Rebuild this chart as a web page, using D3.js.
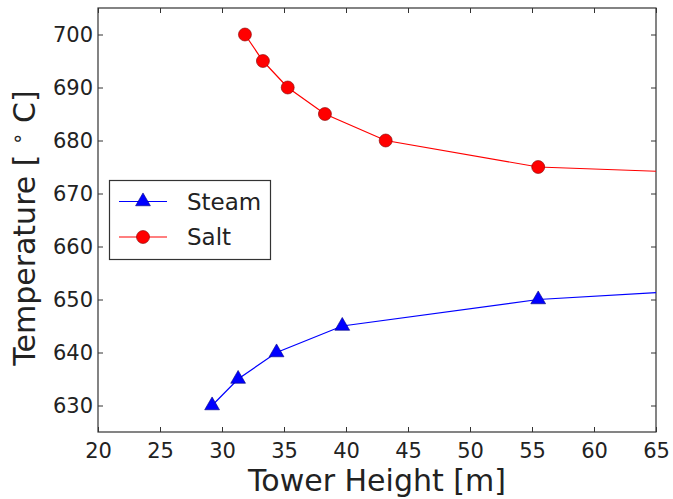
<!DOCTYPE html>
<html>
<head>
<meta charset="utf-8">
<script src="https://cdn.jsdelivr.net/npm/d3@7"></script>
<style>
  html, body { margin: 0; padding: 0; background: #fff; }
  svg text { font-family: "DejaVu Sans", sans-serif; fill: #222; }
</style>
</head>
<body>
<svg id="chart" width="673" height="499"></svg>
<script>
// Tower height [m] and outlet temperature [°C] for each working fluid
const steamHeight = [29.2, 31.3, 34.4, 39.7, 55.5];
const steamTemp   = [630, 635, 640, 645, 650];
const saltHeight  = [31.85, 33.3, 35.3, 38.3, 43.2, 55.5];
const saltTemp    = [700, 695, 690, 685, 680, 675];

// Fitted curves continue past the last marker to the edge of the axes
const steamCurveEnd = [65, 651.3];
const saltCurveEnd  = [65, 674.2];

const xTicks = [20, 25, 30, 35, 40, 45, 50, 55, 60, 65];
const yTicks = [630, 640, 650, 660, 670, 680, 690, 700];

const svg = d3.select("#chart");
const m = { left: 98, top: 8, right: 656, bottom: 432 };

const x = d3.scaleLinear().domain([20, 65]).range([m.left, m.right]);
const y = d3.scaleLinear().domain([625, 705]).range([m.bottom, m.top]);

const axisColor = "#333";

// Frame
svg.append("rect")
  .attr("x", m.left).attr("y", m.top)
  .attr("width", m.right - m.left).attr("height", m.bottom - m.top)
  .attr("fill", "none").attr("stroke", axisColor).attr("stroke-width", 1.2);

// Axes with inward ticks on all four sides
const tickLen = 5;
const gx = svg.append("g").attr("transform", `translate(0,${m.bottom})`)
  .call(d3.axisBottom(x).tickValues(xTicks).tickSizeInner(-tickLen).tickSizeOuter(0).tickPadding(11));
const gxTop = svg.append("g").attr("transform", `translate(0,${m.top})`)
  .call(d3.axisTop(x).tickValues(xTicks).tickSizeInner(-tickLen).tickSizeOuter(0).tickFormat(""));
const gy = svg.append("g").attr("transform", `translate(${m.left},0)`)
  .call(d3.axisLeft(y).tickValues(yTicks).tickSizeInner(-tickLen).tickSizeOuter(0).tickPadding(5));
const gyRight = svg.append("g").attr("transform", `translate(${m.right},0)`)
  .call(d3.axisRight(y).tickValues(yTicks).tickSizeInner(-tickLen).tickSizeOuter(0).tickFormat(""));

[gx, gxTop, gy, gyRight].forEach(g => {
  g.select(".domain").remove();
  g.selectAll(".tick line").attr("stroke", axisColor).attr("stroke-width", 1);
  g.selectAll(".tick text").attr("font-size", 21).attr("fill", "#222")
    .attr("font-family", "DejaVu Sans, sans-serif");
});

// Axis titles
svg.append("text")
  .attr("x", 377).attr("y", 491)
  .attr("text-anchor", "middle").attr("font-size", 30)
  .text("Tower Height [m]");

const yl = svg.append("text")
  .attr("transform", `translate(35,228) rotate(-90)`)
  .attr("text-anchor", "middle").attr("font-size", 30);
yl.append("tspan").text("Temperature [ ");
yl.append("tspan").attr("dy", -11).attr("font-size", 20).text("∘");
yl.append("tspan").attr("dy", 11).text(" C]");

// Series
const line = d3.line().x(d => x(d[0])).y(d => y(d[1]));

const steamPts = steamHeight.map((h, i) => [h, steamTemp[i]]);
const saltPts  = saltHeight.map((h, i) => [h, saltTemp[i]]);

svg.append("path").datum(steamPts.concat([steamCurveEnd]))
  .attr("d", line).attr("fill", "none").attr("stroke", "#0000ff").attr("stroke-width", 1.2);
svg.append("path").datum(saltPts.concat([saltCurveEnd]))
  .attr("d", line).attr("fill", "none").attr("stroke", "#ff0000").attr("stroke-width", 1.2);

const tri = d3.symbol().type(d3.symbolTriangle).size(95);

svg.append("g").selectAll("path").data(steamPts).join("path")
  .attr("d", tri)
  .attr("transform", d => `translate(${x(d[0])},${y(d[1])})`)
  .attr("fill", "#0000ff").attr("stroke", "#000080").attr("stroke-width", 0.6);

svg.append("g").selectAll("circle").data(saltPts).join("circle")
  .attr("cx", d => x(d[0])).attr("cy", d => y(d[1])).attr("r", 6.5)
  .attr("fill", "#ff0000").attr("stroke", "#800000").attr("stroke-width", 0.6);

// Legend
const lg = svg.append("g");
lg.append("rect").attr("x", 109.5).attr("y", 180.5).attr("width", 161).attr("height", 79)
  .attr("fill", "#fff").attr("stroke", axisColor).attr("stroke-width", 1.2);

const entries = [
  { name: "Steam", color: "#0000ff", edge: "#000080", marker: "tri", cy: 201.5 },
  { name: "Salt",  color: "#ff0000", edge: "#800000", marker: "circle", cy: 237 }
];
entries.forEach(e => {
  lg.append("line").attr("x1", 119).attr("x2", 167).attr("y1", e.cy).attr("y2", e.cy)
    .attr("stroke", e.color).attr("stroke-width", 1.2);
  if (e.marker === "tri") {
    lg.append("path").attr("d", tri).attr("transform", `translate(143,${e.cy})`)
      .attr("fill", e.color).attr("stroke", e.edge).attr("stroke-width", 0.6);
  } else {
    lg.append("circle").attr("cx", 143).attr("cy", e.cy).attr("r", 6.5)
      .attr("fill", e.color).attr("stroke", e.edge).attr("stroke-width", 0.6);
  }
  lg.append("text").attr("x", 187).attr("y", e.cy + 8).attr("font-size", 23).text(e.name);
});
</script>
</body>
</html>
